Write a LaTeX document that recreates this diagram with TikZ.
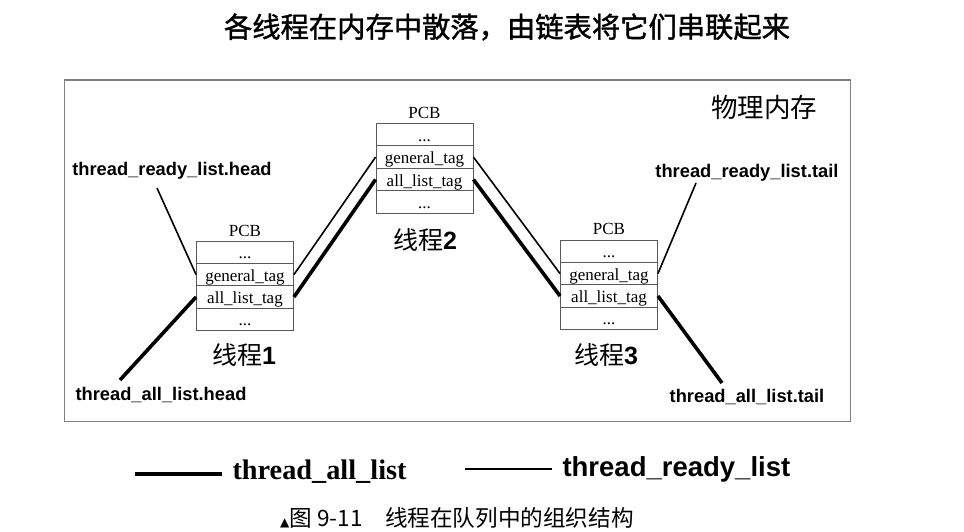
\documentclass[tikz,border=0pt]{standalone}
\usepackage{fontspec}
\setmainfont{Liberation Serif}
\setsansfont{Liberation Sans}
\newfontfamily\cjk{Noto Sans CJK SC}
\newfontfamily\cjkmed{Noto Sans CJK SC}[FakeBold=1.4]
\newfontfamily\symfont{DejaVu Sans}
\begin{document}
\begin{tikzpicture}[x=1pt,y=-1pt,
 row/.style={draw=black!65, line width=0.9pt, minimum width=97pt, minimum height=22.4pt, inner sep=0pt, text height=15pt, text depth=2pt, font=\fontsize{17}{17}\selectfont},
 pcb/.style={font=\fontsize{17}{17}\selectfont},
 ptr/.style={font=\sffamily\bfseries\fontsize{18.3}{19}\selectfont},
 thname/.style={font=\fontsize{25}{25}\selectfont},
 readyln/.style={line width=1.6pt},
 allln/.style={line width=3.6pt}]
\useasboundingbox (0,0) rectangle (964,532);
\node[font=\cjkmed\fontsize{28.3}{28.3}\selectfont] (title) at (507,27) {各线程在内存中散落，由链表将它们串联起来};
\node[draw=black!50, line width=1.4pt, minimum width=786pt, minimum height=341pt, inner sep=0pt, anchor=north west] (mem) at (64,79.5) {};
\node[font=\cjk\fontsize{26.5}{26.5}\selectfont] (phys) at (764,107) {物理内存};
% box 1
\node[pcb] (p1) at (245,231) {PCB};
\node[row] (a1) at (245,252.2) {...};
\node[row] (a2) at (245,274.6) {general\_tag};
\node[row] (a3) at (245,297) {all\_list\_tag};
\node[row] (a4) at (245,319.4) {...};
% box 2
\node[pcb] (p2) at (424.5,113) {PCB};
\node[row] (b1) at (424.5,134.7) {...};
\node[row] (b2) at (424.5,157.1) {general\_tag};
\node[row] (b3) at (424.5,179.5) {all\_list\_tag};
\node[row] (b4) at (424.5,201.9) {...};
% box 3
\node[pcb] (p3) at (609,229) {PCB};
\node[row] (c1) at (609,251.2) {...};
\node[row] (c2) at (609,273.6) {general\_tag};
\node[row] (c3) at (609,296) {all\_list\_tag};
\node[row] (c4) at (609,318.4) {...};
% thread names
\node[thname] (t1) at (244,355) {{\cjk 线程}\textsf{\bfseries 1}};
\node[thname] (t2) at (425,240) {{\cjk 线程}\textsf{\bfseries 2}};
\node[thname] (t3) at (606,355) {{\cjk 线程}\textsf{\bfseries 3}};
% pointer labels
\node[ptr] (rhl) at (172,171) {thread\_ready\_list.head};
\node[ptr] (ahl) at (161,395) {thread\_all\_list.head};
\node[ptr] (rtl) at (747,173) {thread\_ready\_list.tail};
\node[ptr] (atl) at (747,397) {thread\_all\_list.tail};
% connectors
\coordinate (rh) at (157,188);
\coordinate (ah) at (120,380);
\coordinate (rt) at (696,183);
\coordinate (at) at (722,383);
\draw[readyln] (rh) -- (a2.west);
\draw[allln] (ah) -- (a3.west);
\draw[readyln] (a2.east) -- (b2.west);
\draw[allln] (a3.east) -- (b3.west);
\draw[readyln] (b2.east) -- (c2.west);
\draw[allln] (b3.east) -- (c3.west);
\draw[readyln] (c2.east) -- (rt);
\draw[allln] (c3.east) -- (at);
% legend
\coordinate (l1a) at (135,474);
\coordinate (l1b) at (222,474);
\coordinate (l2a) at (465,469);
\coordinate (l2b) at (552,469);
\draw[line width=3.4pt] (l1a) -- (l1b);
\draw[line width=1.6pt] (l2a) -- (l2b);
\node[font=\bfseries\fontsize{28.3}{28.3}\selectfont, anchor=west] (la) at (229,472) {thread\_all\_list};
\node[font=\sffamily\bfseries\fontsize{27.5}{27.5}\selectfont, anchor=west] (lr) at (559,469) {thread\_ready\_list};
\node[font=\cjk\fontsize{22.6}{22.6}\selectfont] (cap) at (457,518) {{\symfont\fontsize{12}{12}\selectfont ▲}图 9-11\quad 线程在队列中的组织结构};
\end{tikzpicture}
\end{document}
